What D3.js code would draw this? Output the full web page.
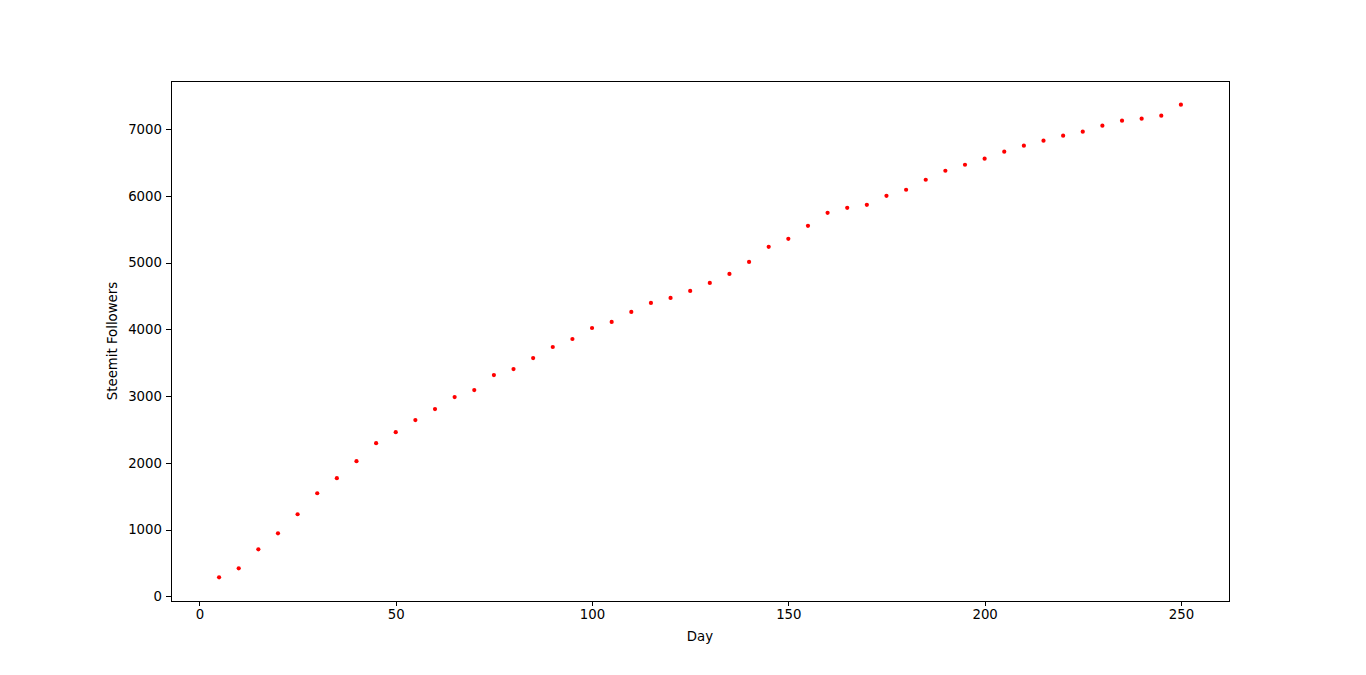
<!DOCTYPE html>
<html>
<head>
<meta charset="utf-8">
<script src="https://cdn.jsdelivr.net/npm/d3@7.9.0/dist/d3.min.js"></script>
<style>
  body { margin: 0; background: #fff; }
  svg text { font-family: "DejaVu Sans", sans-serif; font-size: 13.3px; fill: #000; }
</style>
</head>
<body>
<div id="chart"></div>
<script>
// day numbers and follower counts
const days = [5, 10, 15, 20, 25, 30, 35, 40, 45, 50, 55, 60, 65, 70, 75, 80, 85, 90, 95, 100,
  105, 110, 115, 120, 125, 130, 135, 140, 145, 150, 155, 160, 165, 170, 175, 180, 185, 190, 195, 200,
  205, 210, 215, 220, 225, 230, 235, 240, 245, 250];
const followers = [285, 420, 705, 945, 1230, 1545, 1770, 2025, 2295, 2460, 2640, 2805, 2985, 3090, 3315, 3405, 3570, 3735, 3855, 4020,
  4110, 4260, 4395, 4470, 4575, 4695, 4830, 5010, 5235, 5355, 5550, 5745, 5820, 5865, 6000, 6090, 6240, 6375, 6465, 6555,
  6660, 6750, 6825, 6900, 6960, 7050, 7125, 7155, 7200, 7365];
const xTicks = [0, 50, 100, 150, 200, 250];
const yTicks = [0, 1000, 2000, 3000, 4000, 5000, 6000, 7000];

const CONFIG = {
  WIDTH: 1366,
  HEIGHT: 675,
  MARGIN: { top: 81, right: 137, bottom: 74, left: 171 }
};

const svg = d3.select('#chart').append('svg')
  .attr('width', CONFIG.WIDTH)
  .attr('height', CONFIG.HEIGHT);

const plotLeft = CONFIG.MARGIN.left;
const plotRight = CONFIG.WIDTH - CONFIG.MARGIN.right;
const plotTop = CONFIG.MARGIN.top;
const plotBottom = CONFIG.HEIGHT - CONFIG.MARGIN.bottom;

// matplotlib style 5% padding around the data
function padded(vals) {
  const [lo, hi] = d3.extent(vals);
  const m = (hi - lo) * 0.05;
  return [lo - m, hi + m];
}

const xScale = d3.scaleLinear().domain(padded(days)).range([plotLeft, plotRight]);
const yScale = d3.scaleLinear().domain(padded(followers)).range([plotBottom, plotTop]);

svg.append('g')
  .selectAll('circle')
  .data(days)
  .join('circle')
  .attr('cx', d => xScale(d))
  .attr('cy', (d, i) => yScale(followers[i]))
  .attr('r', 2.1)
  .attr('fill', 'red');

const xAxis = svg.append('g')
  .attr('transform', `translate(0,${plotBottom})`)
  .call(d3.axisBottom(xScale).tickValues(xTicks).tickSize(5).tickPadding(4).tickFormat(d3.format('d')));

const yAxis = svg.append('g')
  .attr('transform', `translate(${plotLeft},0)`)
  .call(d3.axisLeft(yScale).tickValues(yTicks).tickSize(5).tickPadding(4).tickFormat(d3.format('d')));

[xAxis, yAxis].forEach(a => {
  a.select('.domain').remove();
  a.selectAll('.tick line')
    .attr('stroke', '#000')
    .attr('stroke-width', 1)
    .attr('shape-rendering', 'crispEdges');
  a.selectAll('text').attr('font-family', null).attr('font-size', null);
});

// axes frame
svg.append('rect')
  .attr('x', plotLeft)
  .attr('y', plotTop)
  .attr('width', plotRight - plotLeft)
  .attr('height', plotBottom - plotTop)
  .attr('fill', 'none')
  .attr('stroke', '#000')
  .attr('stroke-width', 1)
  .attr('shape-rendering', 'crispEdges');

svg.append('text')
  .attr('x', (plotLeft + plotRight) / 2)
  .attr('y', 641)
  .attr('text-anchor', 'middle')
  .text('Day');

svg.append('text')
  .attr('transform', `translate(117,${(plotTop + plotBottom) / 2}) rotate(-90)`)
  .attr('text-anchor', 'middle')
  .text('Steemit Followers');
</script>
</body>
</html>
